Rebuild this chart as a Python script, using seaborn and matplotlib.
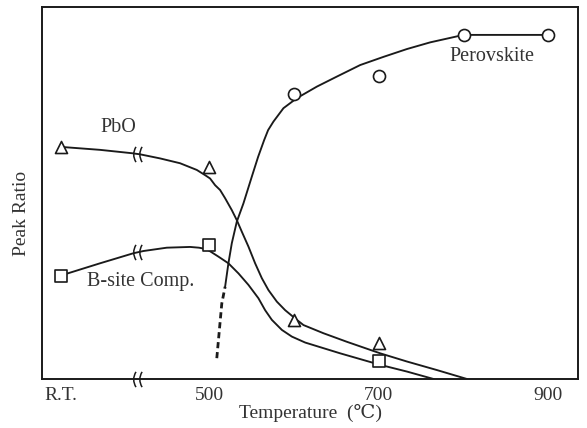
import numpy as np
import pandas as pd
import matplotlib
matplotlib.use("Agg")
import matplotlib.pyplot as plt
from matplotlib.path import Path
import seaborn as sns

# ---------------- data ----------------
RT = 325          # position used for "R.T." on the temperature axis
BREAK_T = 415     # axis break between R.T. and 500

tick_pos = [RT, 500, 700, 900]
tick_labels = ["R.T.", "500", "700", "900"]

# measured points
perov_t = [600, 700, 800, 900]
perov_v = [76.5, 81.4, 92.5, 92.5]
pbo_t = [RT, 500, 600, 700]
pbo_v = [62.4, 56.9, 15.9, 9.6]
bsite_t = [RT, 500, 700]
bsite_v = [27.8, 36.0, 4.8]

# hand-drawn guide curves
perov_dash_t = [509.1, 515.0, 518.9]
perov_dash_v = [5.6, 20.3, 24.8]
perov_curve_t = [518.9, 522.8, 526.8, 532.7, 540.5, 550.4, 557.8, 564.9, 569.6, 575.9, 587.7,
                 603.5, 627.1, 650.7, 678.2, 705.7, 733.3, 760.8, 784.4, 800, 900]
perov_curve_v = [24.8, 31.1, 36.5, 42.3, 47.2, 54.4, 59.7, 64.2, 66.9, 69.2, 72.8,
                 75.5, 78.6, 81.3, 84.4, 86.6, 88.7, 90.5, 91.7, 92.5, 92.5]
pbo_curve_t = [RT, 371.4, 408.8, 418.6, 442.2, 465.8, 485.5, 495.3, 501.2, 507.1, 513.0,
               518.9, 526.8, 532.7, 538.6, 546.4, 554.3, 562.2, 570.0, 579.9, 589.7,
               603.5, 611.3, 634.9, 662.5, 701.8, 733.3, 768.7, 804.1]
pbo_curve_v = [62.4, 61.6, 60.7, 60.4, 59.3, 58.0, 56.2, 54.8, 53.9, 52.1, 50.8,
               48.6, 45.4, 42.7, 39.6, 35.6, 31.1, 27.1, 23.9, 20.8, 18.5,
               15.9, 14.5, 12.3, 10.0, 6.9, 4.7, 2.4, 0.0]
bsite_curve_t = [RT, 371.4, 410.7, 422.5, 450.1, 477.6, 488.0, 497.3, 511.0, 522.8, 534.6,
                 546.4, 558.2, 566.1, 574.0, 585.8, 597.6, 613.3, 654.6, 701.8, 733.3, 764.7]
bsite_curve_v = [27.8, 31.1, 33.8, 34.4, 35.3, 35.5, 35.3, 34.9, 32.9, 31.1, 28.4,
                 25.3, 21.7, 18.5, 15.9, 13.2, 11.4, 9.8, 6.9, 3.8, 2.0, 0.0]

# ---------------- style ----------------
sns.set_style("white")
plt.rcParams["font.family"] = ["Liberation Serif", "DejaVu Serif"]
INK = "#1a1a1a"
TXT = "#333333"

fig = plt.figure(figsize=(5.87, 4.28), dpi=100)
ax = fig.add_axes([42 / 587, 49 / 428, 536 / 587, 372 / 428])

lw = 1.35
line_kw = dict(sort=False, estimator=None, color=INK, ax=ax,
               solid_joinstyle="round", solid_capstyle="round")
sns.lineplot(x=perov_curve_t, y=perov_curve_v, lw=lw, **line_kw)
sns.lineplot(x=pbo_curve_t, y=pbo_curve_v, lw=lw, **line_kw)
sns.lineplot(x=bsite_curve_t, y=bsite_curve_v, lw=lw, **line_kw)
sns.lineplot(x=perov_dash_t, y=perov_dash_v, sort=False, estimator=None, color=INK,
             lw=2.0, ax=ax, linestyle=(0, (2.2, 1.4)))

kw = dict(facecolor="white", edgecolor=INK, linewidth=1.2, zorder=5, ax=ax, legend=False)
sns.scatterplot(x=perov_t, y=perov_v, marker="o", s=75, **kw)
sns.scatterplot(x=pbo_t, y=pbo_v, marker="^", s=75, **kw)
sns.scatterplot(x=bsite_t, y=bsite_v, marker="s", s=65, **kw)

# break marks "((" on curves and axis
C = Path.CURVE3
brk = Path([(-0.2, 1), (-0.8, 0), (-0.2, -1), (0.6, 1), (0.0, 0), (0.6, -1)],
           [Path.MOVETO, C, C, Path.MOVETO, C, C])
for yv, clip in [(np.interp(BREAK_T, pbo_curve_t, pbo_curve_v), True),
                 (np.interp(BREAK_T, bsite_curve_t, bsite_curve_v), True),
                 (0, False)]:
    ax.plot([BREAK_T], [yv], marker=brk, markersize=11, color=INK,
            markerfacecolor="none", markeredgewidth=1.1, linestyle="none",
            clip_on=clip, zorder=6)

ax.set_xlim(303, 935)
ax.set_ylim(0, 100)
ax.set_xticks(tick_pos)
ax.set_xticklabels(tick_labels)
ax.set_yticks([])
ax.tick_params(axis="x", direction="in", length=5, width=0.9, color=INK,
               labelsize=14, labelcolor=TXT, pad=6)
for s in ax.spines.values():
    s.set_visible(True)
    s.set_color(INK)
    s.set_linewidth(1.4)

ax.set_xlabel("Temperature  (℃)", fontsize=14, color=TXT, labelpad=0)
ax.set_ylabel("Peak Ratio", fontsize=14, color=TXT)
ax.yaxis.set_label_coords(-0.022, 0.446)

ax.text(393, 67.7, "PbO", fontsize=14.5, color=TXT, ha="center", va="center")
ax.text(419, 26.1, "B-site Comp.", fontsize=14.5, color=TXT, ha="center", va="center")
ax.text(834, 86.6, "Perovskite", fontsize=14.5, color=TXT, ha="center", va="center")

fig.savefig("out.png", dpi=100)
